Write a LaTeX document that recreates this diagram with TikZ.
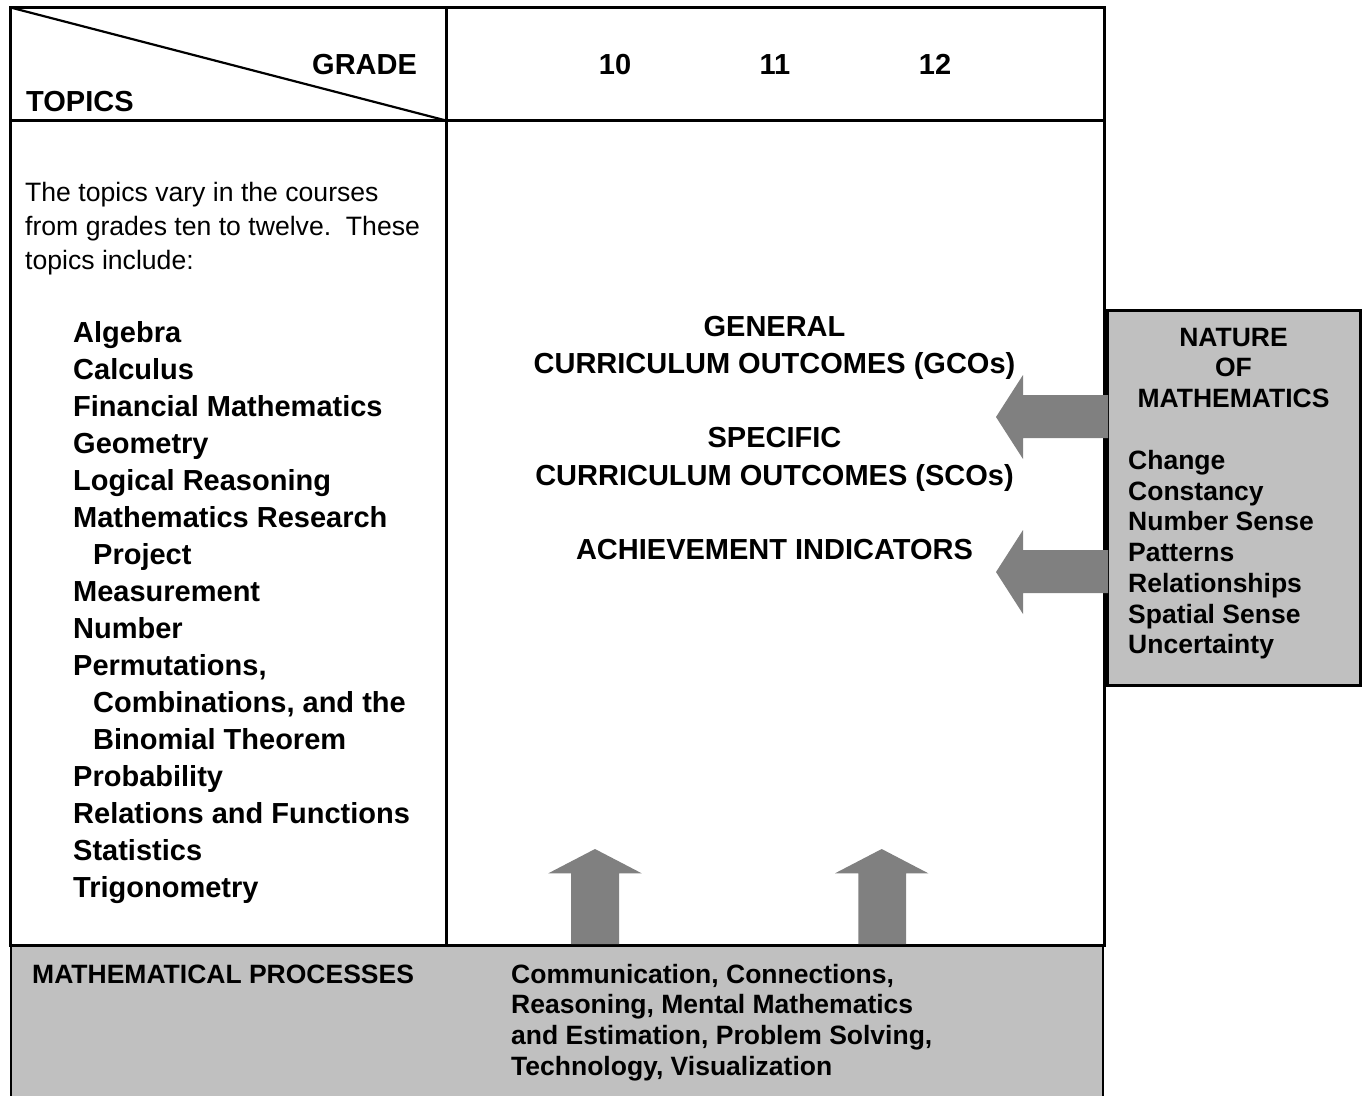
\documentclass[tikz,border=0pt]{standalone}
\usepackage{fontspec}
\setmainfont{Liberation Sans}
\definecolor{boxgray}{HTML}{C0C0C0}
\definecolor{arrowgray}{HTML}{808080}
\begin{document}
\begin{tikzpicture}[x=1pt,y=-1pt,
  bigb/.style={font=\fontsize{29}{35}\selectfont\bfseries, inner sep=0pt, anchor=base west},
  bigc/.style={bigb, anchor=base},
  smb/.style={font=\fontsize{26.5}{31}\selectfont\bfseries, inner sep=0pt, anchor=base west},
  smc/.style={smb, anchor=base},
  reg/.style={font=\fontsize{26.6}{34}\selectfont, inner sep=0pt, anchor=base west},
  frame/.style={line width=3pt, line cap=rect},
  blockarrow/.style={fill=arrowgray, draw=none}]
\useasboundingbox (0,0) rectangle (1365,1095);
\fill[white] (0,0) rectangle (1365,1095);

% bottom grey band
\draw[fill=boxgray, line width=2pt] (11,945.5) rectangle (1103,1110);

% frame of the table
\draw[frame] (10.5,945.5) -- (10.5,7.5) -- (1104.5,7.5) -- (1104.5,945.5) -- cycle;
\draw[frame] (10.5,120.5) -- (1104.5,120.5);
\draw[frame] (446,7.5) -- (446,945.5);
\draw[line width=2.2pt] (10.5,7.5) -- (446,120.5);

% right grey box
\draw[fill=boxgray, line width=2.6pt] (1107.5,310.5) rectangle (1360.7,685.5);

% block arrows (left-pointing)
\fill[blockarrow] (1108,395) -- (1023,395) -- (1023,375) -- (996,417) -- (1023,459) -- (1023,438) -- (1108,438) -- cycle;
\fill[blockarrow] (1108,550) -- (1023,550) -- (1023,530) -- (996,572) -- (1023,614) -- (1023,593) -- (1108,593) -- cycle;
% block arrows (up-pointing)
\fill[blockarrow] (571,944) -- (571,873.3) -- (548.3,873.3) -- (595,849) -- (641.7,873.3) -- (619,873.3) -- (619,944) -- cycle;
\fill[blockarrow] (858.3,944) -- (858.3,873.3) -- (835,873.3) -- (881.7,849) -- (928.3,873.3) -- (906,873.3) -- (906,944) -- cycle;

% header texts
\node[bigb] (grade) at (312,74) {GRADE};
\node[bigb] (topics) at (26,111) {TOPICS};
\node[bigc] (g10) at (615,74) {10};
\node[bigc] (g11) at (775,74) {11};
\node[bigc] (g12) at (935,74) {12};

% intro text
\node[reg] (intro1) at (25,201.5) {The topics vary in the courses};
\node[reg] (intro2) at (25,235.5) {from grades ten to twelve.\ \ These};
\node[reg] (intro3) at (25,269.5) {topics include:};

% topic list
\foreach \t/\xx [count=\k from 0] in {
  Algebra/73, Calculus/73, Financial Mathematics/73, Geometry/73,
  Logical Reasoning/73, Mathematics Research/73, Project/93,
  Measurement/73, Number/73, {Permutations,}/73,
  {Combinations, and the}/93, Binomial Theorem/93, Probability/73,
  Relations and Functions/73, Statistics/73, Trigonometry/73}
  \node[bigb] (topic\k) at (\xx,342+37*\k) {\t};

% centre texts
\node[bigc] (gen1) at (774.5,336) {GENERAL};
\node[bigc] (gen2) at (774.5,373) {CURRICULUM OUTCOMES (GCOs)};
\node[bigc] (spe1) at (774.5,447) {SPECIFIC};
\node[bigc] (spe2) at (774.5,485) {CURRICULUM OUTCOMES (SCOs)};
\node[bigc] (ach) at (774.5,559) {ACHIEVEMENT INDICATORS};

% nature of mathematics
\node[smc] (nat1) at (1233.5,346.5) {NATURE};
\node[smc] (nat2) at (1233.5,376.5) {OF};
\node[smc] (nat3) at (1233.5,407.5) {MATHEMATICS};
\foreach \t [count=\k from 0] in {Change, Constancy, Number Sense, Patterns,
  Relationships, Spatial Sense, Uncertainty}
  \node[smb] (nm\k) at (1128,469.5+30.7*\k) {\t};

% mathematical processes
\node[smb] (mp) at (32,983) {MATHEMATICAL PROCESSES};
\node[smb] (mp1) at (511,983) {Communication, Connections,};
\node[smb] (mp2) at (511,1013.5) {Reasoning, Mental Mathematics};
\node[smb] (mp3) at (511,1044.5) {and Estimation, Problem Solving,};
\node[smb] (mp4) at (511,1075) {Technology, Visualization};
\end{tikzpicture}
\end{document}
